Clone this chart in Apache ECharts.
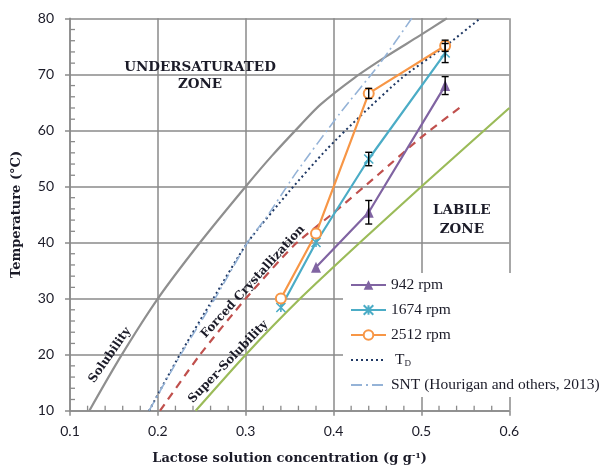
<!DOCTYPE html>
<html>
<head>
<meta charset="utf-8">
<script src="https://cdn.jsdelivr.net/npm/echarts@6/dist/echarts.min.js"></script>
<style>
  html, body { margin: 0; padding: 0; background: #ffffff; }
  #chart { width: 602px; height: 468px; }
</style>
</head>
<body>
<div id="chart"></div>
<script>
// ---- Measured data ----
// Nucleation temperatures at three agitation speeds (mean and error)
const conc942 = [0.38, 0.44, 0.527];
const temp942 = [35.6, 45.4, 68.0];
const err942 = [0, 2.1, 1.6];

const conc1674 = [0.34, 0.38, 0.44, 0.527];
const temp1674 = [28.4, 40.0, 54.9, 73.8];
const err1674 = [0, 0, 1.2, 1.7];

const conc2512 = [0.34, 0.38, 0.44, 0.527];
const temp2512 = [30.0, 41.6, 66.6, 75.1];
const err2512 = [0, 0, 0.9, 1.0];

// Reference curves
const solubilityConc = [0.122, 0.159, 0.2, 0.248, 0.3, 0.33, 0.362, 0.385, 0.423, 0.46, 0.498, 0.529];
const solubilityTemp = [10, 20, 30, 40, 50, 55.5, 60.9, 64.6, 69.3, 73.2, 76.9, 80];

const superSolConc = [0.243, 0.3, 0.362, 0.43, 0.5, 0.6];
const superSolTemp = [10, 20, 30, 40, 50, 64];

const forcedConc = [0.2025, 0.248, 0.3, 0.355, 0.4, 0.45, 0.5, 0.548];
const forcedTemp = [10, 20, 30, 39.5, 45.3, 52.0, 58.8, 64.6];

const tdConc = [0.19, 0.225, 0.263, 0.302, 0.35, 0.392, 0.43, 0.478, 0.527, 0.567];
const tdTemp = [10, 20, 30, 40, 49.2, 56.6, 62.5, 69.4, 75, 80];

const sntConc = [0.19, 0.226, 0.265, 0.302, 0.324, 0.358, 0.407, 0.453, 0.489];
const sntTemp = [10, 20, 30, 40, 44.6, 52.6, 63, 72, 80];

// Axis ticks
const xTicks = { min: 0.1, max: 0.6, step: 0.1, minorPerStep: 5 };
const yTicks = { min: 10, max: 80, step: 10, minorPerStep: 5 };

// Legend entries
const legendNames = ['942 rpm', '1674 rpm', '2512 rpm', 'TD', 'SNT (Hourigan and others, 2013)'];

// ---- Helpers ----
const pairs = (xs, ys) => xs.map((x, i) => [x, ys[i]]);
const errRows = (xs, ys, es) => xs.map((x, i) => [x, ys[i], es[i]]).filter(r => r[2] > 0);

// Minor tick positions between the major ticks of an axis
function minorValues(t) {
  const out = [];
  const n = Math.round((t.max - t.min) / t.step);
  for (let i = 0; i < n; i++) {
    for (let k = 1; k < t.minorPerStep; k++) {
      out.push(+(t.min + t.step * (i + k / t.minorPerStep)).toFixed(6));
    }
  }
  return out;
}

const COLORS = {
  purple: '#8064a2', teal: '#4bacc6', orange: '#f79646', green: '#9bbb59',
  red: '#c0504d', gray: '#8f8f8f', navy: '#1f3864', lightBlue: '#95b3d7',
  grid: '#8a8a8a', text: '#1b1b28'
};
const SERIF_B = 'DejaVu Serif';
const xStar = 'path://M0,0 L10,10 M10,0 L0,10 M5,0 L5,10';
const HIDDEN = 'rgba(0,0,0,0)';
const MINOR_LEN = 5;

const chart = echarts.init(document.getElementById('chart'), null, { renderer: 'canvas' });

function errorBarRender(params, api) {
  const x = api.value(0), y = api.value(1), e = api.value(2);
  const top = api.coord([x, y + e]);
  const bot = api.coord([x, y - e]);
  const w = 3.5;
  const st = { stroke: '#000', lineWidth: 1.4 };
  return {
    type: 'group',
    children: [
      { type: 'line', shape: { x1: top[0], y1: top[1], x2: bot[0], y2: bot[1] }, style: st },
      { type: 'line', shape: { x1: top[0] - w, y1: top[1], x2: top[0] + w, y2: top[1] }, style: st },
      { type: 'line', shape: { x1: bot[0] - w, y1: bot[1], x2: bot[0] + w, y2: bot[1] }, style: st }
    ]
  };
}

// Inward minor ticks (axis: 'x' draws upward from the x axis, 'y' draws rightward from the y axis)
function minorTickRender(axis) {
  return function (params, api) {
    const p = api.coord([api.value(0), api.value(1)]);
    const shape = axis === 'x'
      ? { x1: p[0], y1: p[1], x2: p[0], y2: p[1] - MINOR_LEN }
      : { x1: p[0], y1: p[1], x2: p[0] + MINOR_LEN, y2: p[1] };
    return { type: 'line', shape: shape, style: { stroke: COLORS.grid, lineWidth: 1.3 } };
  };
}

const option = {
  animation: false,
  backgroundColor: '#ffffff',
  grid: { left: 70, right: 92.7, top: 18.3, bottom: 57.3, containLabel: false, outerBoundsMode: 'none' },
  xAxis: {
    type: 'value', min: xTicks.min, max: xTicks.max, interval: xTicks.step,
    name: '{a|Lactose solution concentration (g g}{s|-1}{a|)}',
    nameLocation: 'middle', nameGap: 41,
    nameTextStyle: {
      rich: {
        a: { fontFamily: SERIF_B, fontWeight: 'bold', fontSize: 13, color: COLORS.text },
        s: { fontFamily: SERIF_B, fontWeight: 'bold', fontSize: 8, color: COLORS.text, verticalAlign: 'top' }
      }
    },
    axisLine: { lineStyle: { color: COLORS.grid, width: 1.5 } },
    axisTick: { show: true, inside: false, length: 5, lineStyle: { color: COLORS.grid, width: 1.5 } },
    axisLabel: { fontFamily: 'Lato', fontSize: 14, color: COLORS.text, margin: 14,
                 formatter: v => v.toFixed(1) },
    splitLine: { show: true, lineStyle: { color: COLORS.grid, width: 1.5 } }
  },
  yAxis: {
    type: 'value', min: yTicks.min, max: yTicks.max, interval: yTicks.step,
    name: 'Temperature (°C)', nameLocation: 'middle', nameGap: 47,
    nameTextStyle: { fontFamily: SERIF_B, fontWeight: 'bold', fontSize: 13, color: COLORS.text },
    axisLine: { show: true, lineStyle: { color: COLORS.grid, width: 1.5 } },
    axisTick: { show: true, inside: false, length: 5, lineStyle: { color: COLORS.grid, width: 1.5 } },
    axisLabel: { fontFamily: 'Lato', fontSize: 14, color: COLORS.text, margin: 16 },
    splitLine: { show: true, lineStyle: { color: COLORS.grid, width: 1.5 } }
  },
  legend: {
    data: legendNames.map(n => (n === 'TD' || n.indexOf('SNT') === 0)
      ? { name: n, itemStyle: { color: HIDDEN, borderColor: HIDDEN, borderWidth: 0 } }
      : n),
    orient: 'vertical',
    left: 343, top: 273,
    padding: [4, 4, 4, 7],
    itemGap: 9,
    itemWidth: 35, itemHeight: 12,
    backgroundColor: '#ffffff',
    textStyle: {
      fontFamily: 'Liberation Serif', fontSize: 15.5, color: COLORS.text, lineHeight: 16,
      rich: {
        t: { fontFamily: 'Liberation Serif', fontSize: 15.5, color: COLORS.text, padding: [0, 0, 0, 4] },
        d: { fontFamily: 'Liberation Serif', fontSize: 9, color: COLORS.text, verticalAlign: 'bottom' }
      }
    },
    formatter: name => name === 'TD' ? '{t|T}{d|D}' : name
  },
  series: [
    {
      name: 'xMinor', type: 'custom', silent: true, clip: false, z: 1,
      renderItem: minorTickRender('x'),
      data: minorValues(xTicks).map(v => [v, yTicks.min])
    },
    {
      name: 'yMinor', type: 'custom', silent: true, clip: false, z: 1,
      renderItem: minorTickRender('y'),
      data: minorValues(yTicks).map(v => [xTicks.min, v])
    },
    {
      name: 'Solubility', type: 'line', data: pairs(solubilityConc, solubilityTemp),
      symbol: 'none', smooth: 0.3, lineStyle: { color: COLORS.gray, width: 2.2 }, z: 2
    },
    {
      name: 'Super-Solubility', type: 'line', data: pairs(superSolConc, superSolTemp),
      symbol: 'none', smooth: 0.2, lineStyle: { color: COLORS.green, width: 2.2 }, z: 2
    },
    {
      name: 'Forced Crystallization', type: 'line', data: pairs(forcedConc, forcedTemp),
      symbol: 'none', smooth: 0.2, lineStyle: { color: COLORS.red, width: 2.2, type: [8, 6] }, z: 2
    },
    {
      name: 'TD', type: 'line', data: pairs(tdConc, tdTemp),
      symbol: 'none', smooth: 0.2, itemStyle: { color: COLORS.navy },
      lineStyle: { color: COLORS.navy, width: 2, type: [2, 3] }, z: 3
    },
    {
      name: 'SNT (Hourigan and others, 2013)', type: 'line', data: pairs(sntConc, sntTemp),
      symbol: 'none', smooth: 0.2, itemStyle: { color: COLORS.lightBlue },
      lineStyle: { color: COLORS.lightBlue, width: 1.6, type: [11, 4, 2, 4] }, z: 3
    },
    {
      name: '942 rpm', type: 'line', data: pairs(conc942, temp942),
      symbol: 'triangle', symbolSize: [10, 11],
      itemStyle: { color: COLORS.purple }, lineStyle: { color: COLORS.purple, width: 2.2 }, z: 4
    },
    {
      name: '1674 rpm', type: 'line', data: pairs(conc1674, temp1674),
      symbol: xStar, symbolSize: 9,
      itemStyle: { color: COLORS.teal, borderColor: COLORS.teal, borderWidth: 1.6 },
      lineStyle: { color: COLORS.teal, width: 2.2 }, z: 4
    },
    {
      name: '2512 rpm', type: 'line', data: pairs(conc2512, temp2512),
      symbol: 'emptyCircle', symbolSize: 10,
      itemStyle: { color: COLORS.orange, borderWidth: 1.6 },
      lineStyle: { color: COLORS.orange, width: 2.2 }, z: 4
    },
    { name: 'err942', type: 'custom', renderItem: errorBarRender, data: errRows(conc942, temp942, err942), z: 5 },
    { name: 'err1674', type: 'custom', renderItem: errorBarRender, data: errRows(conc1674, temp1674, err1674), z: 5 },
    { name: 'err2512', type: 'custom', renderItem: errorBarRender, data: errRows(conc2512, temp2512, err2512), z: 5 }
  ]
};

chart.setOption(option);

// Region and curve labels, anchored in data coordinates
const annotations = [
  { text: 'UNDERSATURATED\nZONE', at: [0.248, 69.7], angle: 0, size: 13.5, lh: 17 },
  { text: 'LABILE\nZONE', at: [0.546, 44.0], angle: 0, size: 13.5, lh: 19 },
  { text: 'Solubility', at: [0.1455, 19.9], angle: 55, size: 12, lh: 14 },
  { text: 'Forced Crystallization', at: [0.3083, 33.0], angle: 47.7, size: 12, lh: 14 },
  { text: 'Super-Solubility', at: [0.2802, 18.7], angle: 46.2, size: 12, lh: 14 }
];

chart.setOption({
  graphic: annotations.map(a => {
    const p = chart.convertToPixel({ seriesIndex: 2 }, a.at);
    return {
      type: 'text', x: p[0], y: p[1], rotation: a.angle * Math.PI / 180, z: 10,
      style: {
        text: a.text, align: 'center', verticalAlign: 'middle',
        font: 'bold ' + a.size + 'px "' + SERIF_B + '"', lineHeight: a.lh,
        fill: COLORS.text
      }
    };
  })
});
</script>
</body>
</html>
